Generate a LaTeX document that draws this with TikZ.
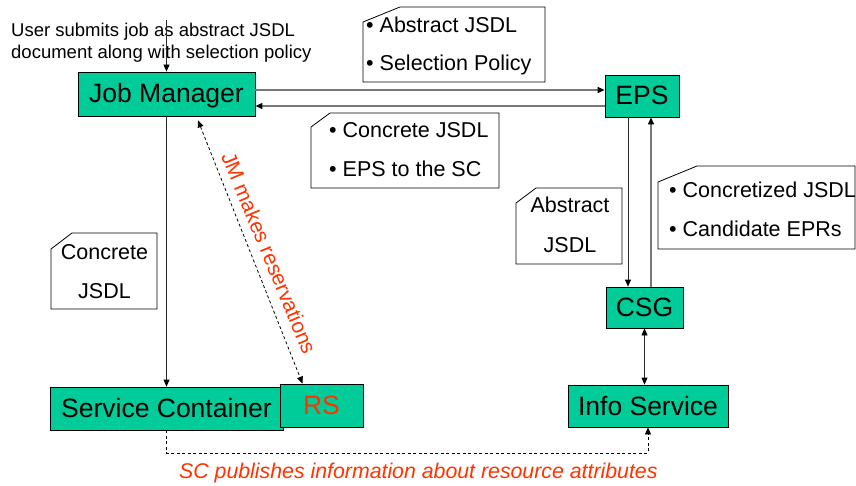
\documentclass[tikz,border=0pt]{standalone}
\usepackage{fontspec}
\setmainfont{Liberation Sans}
\usetikzlibrary{arrows.meta}
\definecolor{boxgreen}{RGB}{0,204,153}
\definecolor{hot}{RGB}{255,51,0}
\definecolor{linegray}{RGB}{120,120,120}
\definecolor{linedark}{RGB}{40,40,40}
\begin{document}
\begin{tikzpicture}[x=1pt,y=-1pt,
  box/.style={draw=black,fill=boxgreen,line width=0.8pt,inner sep=0pt,text height=19.5pt,text depth=1.5pt,font=\fontsize{26.5}{30}\selectfont},
  note/.style={draw=black,line width=0.8pt,fill=white},
  ntext/.style={anchor=base west,inner sep=0pt,font=\fontsize{21.5}{26}\selectfont},
  ctext/.style={anchor=base,inner sep=0pt,font=\fontsize{21.5}{26}\selectfont},
  tip/.style={-{Triangle[length=7pt,width=6pt,color=black]}},
  tips/.style={{Triangle[length=7pt,width=6pt,color=black]}-{Triangle[length=7pt,width=6pt,color=black]}},
  garr/.style={draw=linegray,line width=1.1pt,tip},
  darr/.style={draw=linedark,line width=0.8pt,tip},
  dashline/.style={draw=black,line width=0.8pt,dash pattern=on 3pt off 2.5pt}
]
\useasboundingbox (0,0) rectangle (856,486);

% boxes
\node[box,minimum width=177pt,minimum height=44pt] (jm) at (166.5,94) {Job Manager};
\node[box,minimum width=74pt,minimum height=42pt] (eps) at (642,96) {EPS};
\node[box,minimum width=77pt,minimum height=41pt] (csg) at (644.5,307.5) {CSG};
\node[box,minimum width=160pt,minimum height=42pt] (info) at (648,406) {Info Service};
\node[box,minimum width=233pt,minimum height=43pt] (sc) at (166.5,408.5) {Service Container};
\node[box,minimum width=83pt,minimum height=43pt,text=hot] (rs) at (321.5,405.5) {RS};

% user text
\node[anchor=base west,inner sep=0pt,font=\fontsize{18.5}{22}\selectfont] (u1) at (11,37) {User submits job as abstract JSDL};
\node[anchor=base west,inner sep=0pt,font=\fontsize{18.5}{22}\selectfont] (u2) at (11,59) {document along with selection policy};
\coordinate (ustart) at (166.5,20);
\draw[darr] (ustart) -- (jm.north);

% JM <-> EPS
\draw[garr] ([yshift=4pt]jm.east) -- ([yshift=4pt]jm.east -| eps.west);
\draw[garr] ([yshift=-10pt]eps.west) -- ([yshift=-10pt]eps.west -| jm.east);

% JM -> SC
\draw[darr] (jm.south) -- (sc.north);

% JM <-> RS dashed
\draw[dashline,tips] ([shift={(31.5pt,-4pt)}]jm.south) -- ([xshift=-19pt]rs.north);
\node[rotate=-67.5,inner sep=0pt,text=hot,font=\fontsize{21}{25}\selectfont] (jmres) at (269,253) {JM makes reservations};

% EPS <-> CSG
\draw[darr] ([xshift=-14pt]eps.south) -- ([xshift=-14pt]eps.south |- csg.north);
\draw[garr] ([xshift=6.5pt]csg.north) -- ([xshift=6.5pt]csg.north |- eps.south);

% CSG <-> Info
\draw[darr,tips] (csg.south) -- (csg.south |- info.north);

% SC -> Info dashed
\coordinate (puby) at (0,453);
\draw[dashline,tip] (sc.south) -- (sc.south |- puby) -- (info.south |- puby) -- (info.south);
\node[anchor=base west,inner sep=0pt,text=hot,font=\itshape\fontsize{21.3}{25}\selectfont] (pub) at (179,478) {SC publishes information about resource attributes};

% notes
\draw[note] (363,22) -- (400,7) -- (545,7) -- (545,82) -- (363,82) -- cycle;
\node[ntext] (n1a) at (366,33) {\textbullet\ Abstract JSDL};
\node[ntext] (n1b) at (366,71) {\textbullet\ Selection Policy};

\draw[note] (311,127) -- (330,113) -- (499,113) -- (499,188) -- (311,188) -- cycle;
\node[ntext] (n2a) at (329,138) {\textbullet\ Concrete JSDL};
\node[ntext] (n2b) at (329,177) {\textbullet\ EPS to the SC};

\draw[note] (516,203) -- (536,188) -- (622,188) -- (622,264) -- (516,264) -- cycle;
\node[ctext] (n3a) at (570,213) {Abstract};
\node[ctext] (n3b) at (570,252) {JSDL};

\draw[note] (658,182) -- (697,166) -- (855,166) -- (855,249) -- (658,249) -- cycle;
\node[ntext] (n4a) at (669,198) {\textbullet\ Concretized JSDL};
\node[ntext] (n4b) at (669,237) {\textbullet\ Candidate EPRs};

\draw[note] (51,249) -- (72,233) -- (157,233) -- (157,309) -- (51,309) -- cycle;
\node[ctext] (n5a) at (104.5,259) {Concrete};
\node[ctext] (n5b) at (104.5,298) {JSDL};
\end{tikzpicture}
\end{document}
